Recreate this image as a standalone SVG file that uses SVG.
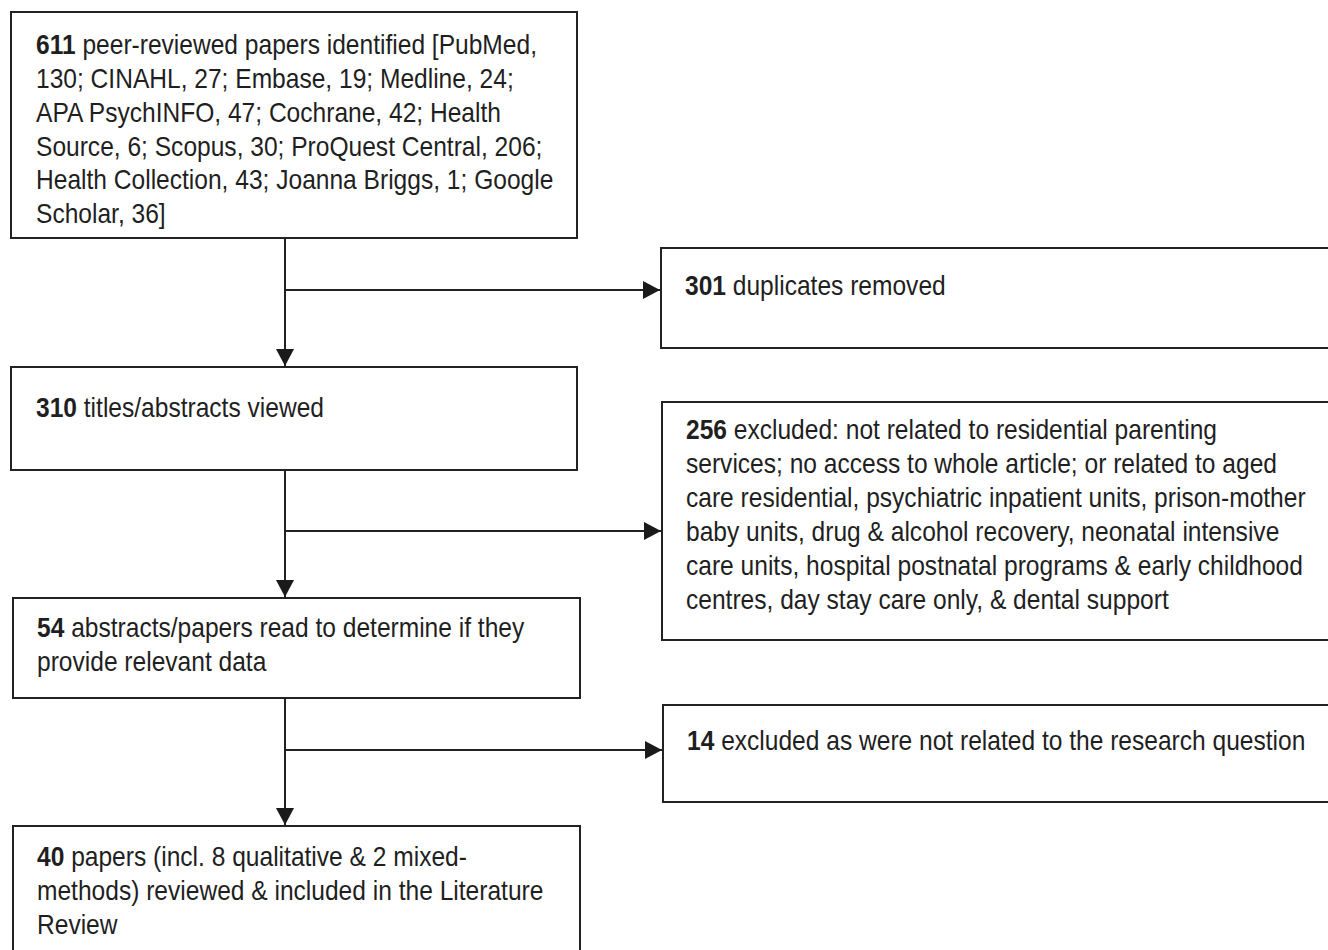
<svg xmlns="http://www.w3.org/2000/svg" width="1328" height="950" viewBox="0 0 1328 950">
<style>
.box{fill:#fff;stroke:#222;stroke-width:2}
.t{font-family:"Liberation Sans",Arial,sans-serif;font-size:27px;fill:#1f1f1f}
.b{font-weight:bold}
.c{stroke:#222;stroke-width:2;fill:none}
</style>
<defs>
<marker id="ah" markerWidth="18" markerHeight="18" refX="17" refY="9" orient="auto" markerUnits="userSpaceOnUse">
<path d="M0,0 L17,9 L0,18 Z" fill="#1a1a1a"/>
</marker>
</defs>
<rect width="1328" height="950" fill="#fff"/>
<g id="connectors">
<line class="c" x1="285" y1="238" x2="285" y2="366" marker-end="url(#ah)"/>
<line class="c" x1="285" y1="290" x2="660" y2="290" marker-end="url(#ah)"/>
<line class="c" x1="285" y1="470" x2="285" y2="597" marker-end="url(#ah)"/>
<line class="c" x1="285" y1="531" x2="661" y2="531" marker-end="url(#ah)"/>
<line class="c" x1="285" y1="698" x2="285" y2="825" marker-end="url(#ah)"/>
<line class="c" x1="285" y1="750" x2="662" y2="750" marker-end="url(#ah)"/>
</g>
<g id="n611">
<rect class="box" x="11" y="12" width="566" height="226"/>
<g transform="translate(36 0) scale(0.91 1)">
<text class="t" x="0" y="54"><tspan class="b">611</tspan> peer-reviewed papers identified [PubMed,</text>
<text class="t" x="0" y="88">130; CINAHL, 27; Embase, 19; Medline, 24;</text>
<text class="t" x="0" y="122">APA PsychINFO, 47; Cochrane, 42; Health</text>
<text class="t" x="0" y="156">Source, 6; Scopus, 30; ProQuest Central, 206;</text>
<text class="t" x="0" y="189">Health Collection, 43; Joanna Briggs, 1; Google</text>
<text class="t" x="0" y="223">Scholar, 36]</text>
</g>
</g>
<g id="n301">
<rect class="box" x="661" y="248" width="700" height="100"/>
<g transform="translate(685 0) scale(0.91 1)">
<text class="t" x="0" y="295"><tspan class="b">301</tspan> duplicates removed</text>
</g>
</g>
<g id="n310">
<rect class="box" x="11" y="367" width="566" height="103"/>
<g transform="translate(36 0) scale(0.91 1)">
<text class="t" x="0" y="417"><tspan class="b">310</tspan> titles/abstracts viewed</text>
</g>
</g>
<g id="n256">
<rect class="box" x="662" y="402" width="700" height="238"/>
<g transform="translate(686 0) scale(0.91 1)">
<text class="t" x="0" y="439"><tspan class="b">256</tspan> excluded: not related to residential parenting</text>
<text class="t" x="0" y="473">services; no access to whole article; or related to aged</text>
<text class="t" x="0" y="507">care residential, psychiatric inpatient units, prison-mother</text>
<text class="t" x="0" y="541">baby units, drug &amp; alcohol recovery, neonatal intensive</text>
<text class="t" x="0" y="575">care units, hospital postnatal programs &amp; early childhood</text>
<text class="t" x="0" y="609">centres, day stay care only, &amp; dental support</text>
</g>
</g>
<g id="n54">
<rect class="box" x="13" y="598" width="567" height="100"/>
<g transform="translate(37 0) scale(0.91 1)">
<text class="t" x="0" y="637"><tspan class="b">54</tspan> abstracts/papers read to determine if they</text>
<text class="t" x="0" y="671">provide relevant data</text>
</g>
</g>
<g id="n14">
<rect class="box" x="663" y="705" width="700" height="97"/>
<g transform="translate(687 0) scale(0.91 1)">
<text class="t" x="0" y="750"><tspan class="b">14</tspan> excluded as were not related to the research question</text>
</g>
</g>
<g id="n40">
<rect class="box" x="13" y="826" width="567" height="140"/>
<g transform="translate(37 0) scale(0.91 1)">
<text class="t" x="0" y="866"><tspan class="b">40</tspan> papers (incl. 8 qualitative &amp; 2 mixed-</text>
<text class="t" x="0" y="900">methods) reviewed &amp; included in the Literature</text>
<text class="t" x="0" y="934">Review</text>
</g>
</g>
</svg>
